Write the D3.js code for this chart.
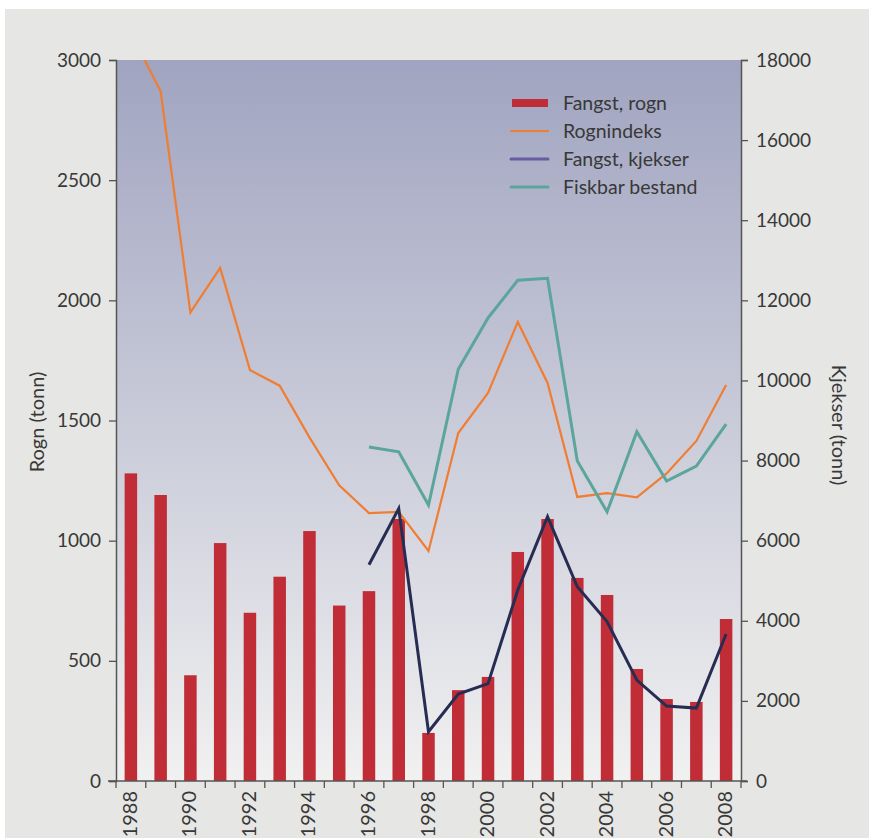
<!DOCTYPE html>
<html>
<head>
<meta charset="utf-8">
<script src="https://cdn.jsdelivr.net/npm/d3@7"></script>
<style>
  body { margin: 0; background: #fff; }
  text { font-family: "Lato", "DejaVu Sans", sans-serif; fill: #383838; }
</style>
</head>
<body>
<div id="chart"></div>
<script>
// data
var years = d3.range(1988, 2009);
var rognFangst = [1280, 1190, 440, 990, 700, 850, 1040, 730, 790, 1090, 200, 378, 433, 953, 1090, 845, 774, 466, 341, 329, 674];
var rognIndeks = [3110, 2870, 1950, 2135, 1710, 1645, 1430, 1230, 1115, 1120, 957, 1448, 1615, 1910, 1656, 1182, 1198, 1180, 1280, 1415, 1648];
var kjekserYears = d3.range(1996, 2009);
var kjekserFangst = [5400, 6800, 1230, 2170, 2430, 4770, 6600, 4850, 3980, 2520, 1870, 1820, 3670];
var fiskbarBestand = [8340, 8220, 6890, 10280, 11560, 12500, 12550, 7990, 6720, 8720, 7490, 7860, 8910];
var leftTicks = [0, 500, 1000, 1500, 2000, 2500, 3000];
var rightTicks = [0, 2000, 4000, 6000, 8000, 10000, 12000, 14000, 16000, 18000];

var svgWidth = 869;
var svgHeight = 838;
var margin = {top: 60, right: 128, bottom: 57, left: 116};
var width = svgWidth - margin.left - margin.right;
var height = svgHeight - margin.top - margin.bottom;

var svg = d3.select("#chart").append("svg")
  .attr("width", svgWidth)
  .attr("height", svgHeight);

// outer gray panel
svg.append("rect")
  .attr("x", 5).attr("y", 9)
  .attr("width", svgWidth - 5).attr("height", svgHeight - 9)
  .attr("fill", "#e6e6e4");

var defs = svg.append("defs");
var grad = defs.append("linearGradient")
  .attr("id", "bg").attr("x1", 0).attr("y1", 0).attr("x2", 0).attr("y2", 1);
grad.append("stop").attr("offset", "0%").attr("stop-color", "#a0a4c0");
grad.append("stop").attr("offset", "100%").attr("stop-color", "#f1f1f1");
defs.append("clipPath").attr("id", "clip")
  .append("rect").attr("width", width).attr("height", height);

var chartGroup = svg.append("g")
  .attr("transform", `translate(${margin.left}, ${margin.top})`);

chartGroup.append("rect")
  .attr("width", width).attr("height", height)
  .attr("fill", "url(#bg)");

// scales
var xScale = d3.scaleBand().domain(years).range([0, width]).paddingInner(0.58).paddingOuter(0.29);
var xCenter = d => xScale(d) + xScale.bandwidth() / 2;
var yLeft = d3.scaleLinear().domain([0, 3000]).range([height, 0]);
var yRight = d3.scaleLinear().domain([0, 18000]).range([height, 0]);

var plot = chartGroup.append("g").attr("clip-path", "url(#clip)");

// bars
plot.selectAll(".bar").data(years).enter().append("rect")
  .attr("class", "bar")
  .attr("x", d => xScale(d))
  .attr("width", xScale.bandwidth())
  .attr("y", (d, i) => yLeft(rognFangst[i]))
  .attr("height", (d, i) => height - yLeft(rognFangst[i]))
  .attr("fill", "#c02d37");

// lines
var lineLeft = d3.line().x(d => xCenter(d[0])).y(d => yLeft(d[1]));
var lineRight = d3.line().x(d => xCenter(d[0])).y(d => yRight(d[1]));

plot.append("path")
  .datum(d3.zip(years, rognIndeks))
  .attr("d", lineLeft)
  .attr("fill", "none").attr("stroke", "#f07d32").attr("stroke-width", 2.2);

plot.append("path")
  .datum(d3.zip(kjekserYears, fiskbarBestand))
  .attr("d", lineRight)
  .attr("fill", "none").attr("stroke", "#5ba59c").attr("stroke-width", 3);

plot.append("path")
  .datum(d3.zip(kjekserYears, kjekserFangst))
  .attr("d", lineRight)
  .attr("fill", "none").attr("stroke", "#272c53").attr("stroke-width", 3);

// axes
var fmt = d3.format("d");
var leftAxis = d3.axisLeft(yLeft).tickValues(leftTicks).tickFormat(fmt).tickSize(7).tickPadding(8);
var rightAxis = d3.axisRight(yRight).tickValues(rightTicks).tickFormat(fmt).tickSize(7).tickPadding(8);
var edges = years.map(d => xScale(d) - xScale.step() * 0.29).concat([width]);

var gl = chartGroup.append("g").call(leftAxis);
var gr = chartGroup.append("g").attr("transform", `translate(${width},0)`).call(rightAxis);
[gl, gr].forEach(function(g) {
  g.select(".domain").attr("stroke", "#555").attr("stroke-width", 1.5);
  g.selectAll(".tick line").attr("stroke", "#555").attr("stroke-width", 1.3);
  g.selectAll(".tick text").attr("font-size", 19).attr("fill", "#383838")
    .style("font-family", "Lato, 'DejaVu Sans', sans-serif");
});

// bottom axis: ticks at band edges, labels every second year
var bottom = chartGroup.append("g").attr("transform", `translate(0,${height})`);
bottom.append("line").attr("x1", -8).attr("x2", width + 6)
  .attr("stroke", "#555").attr("stroke-width", 1.5);
bottom.selectAll(".edge").data(edges).enter().append("line")
  .attr("x1", d => d).attr("x2", d => d).attr("y1", 0).attr("y2", 7)
  .attr("stroke", "#555").attr("stroke-width", 1.3);
bottom.selectAll(".lab").data(years.filter(d => d % 2 === 0)).enter().append("text")
  .attr("transform", d => `translate(${xCenter(d) + 6},10) rotate(-90)`)
  .attr("text-anchor", "end")
  .attr("font-size", 20)
  .text(d => d);

// axis titles
svg.append("text")
  .attr("transform", `translate(44, 422) rotate(-90)`)
  .attr("text-anchor", "middle").attr("font-size", 20)
  .text("Rogn (tonn)");
svg.append("text")
  .attr("transform", `translate(832, 425) rotate(90)`)
  .attr("text-anchor", "middle").attr("font-size", 20)
  .text("Kjekser (tonn)");

// legend
var legendItems = [
  {label: "Fangst, rogn", color: "#c02d37", type: "bar"},
  {label: "Rognindeks", color: "#f07d32", type: "line", w: 2.2},
  {label: "Fangst, kjekser", color: "#6a5aa0", type: "line", w: 3},
  {label: "Fiskbar bestand", color: "#5ba59c", type: "line", w: 3}
];
var legend = svg.append("g").attr("transform", "translate(511, 103)");
legendItems.forEach(function(item, i) {
  var g = legend.append("g").attr("transform", `translate(0, ${i * 28})`);
  if (item.type === "bar") {
    g.append("rect").attr("x", 1).attr("y", -4).attr("width", 36).attr("height", 8).attr("fill", item.color);
  } else {
    g.append("line").attr("x1", 0).attr("x2", 37).attr("stroke", item.color)
      .attr("stroke-width", item.w).attr("stroke-linecap", "round");
  }
  g.append("text").attr("x", 52).attr("y", 7).attr("font-size", 19.5)
    .text(item.label);
});
</script>
</body>
</html>
